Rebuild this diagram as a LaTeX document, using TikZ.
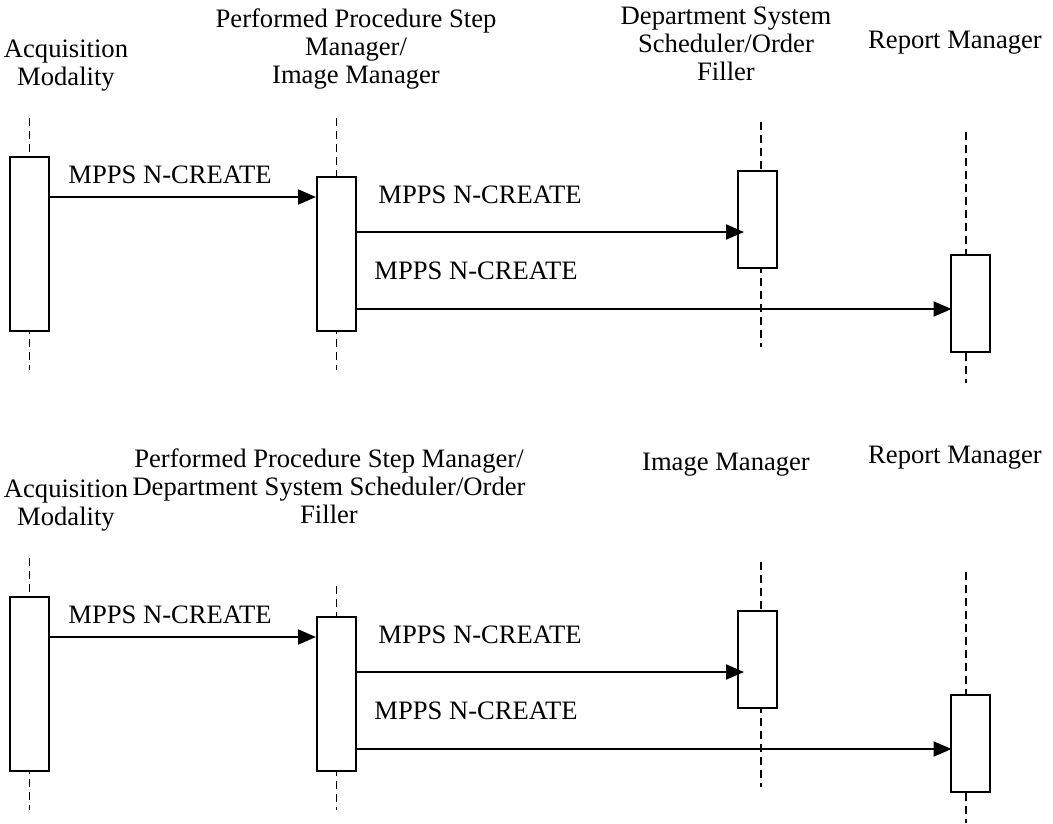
\documentclass[tikz,border=0pt]{standalone}
\usepackage{fontspec}
\setmainfont{Liberation Serif}
\usetikzlibrary{arrows.meta}

\tikzset{
	life/.style={line width=1.5pt, dash pattern=on 8pt off 5pt},
	act/.style={draw, line width=2pt, fill=white, inner sep=0pt, minimum width=39pt},
	msg/.style={line width=2pt, -{Triangle[length=18pt,width=15pt]}},
	title/.style={align=center, anchor=north, inner sep=0pt, font=\fontsize{26.6}{28}\selectfont},
	msglabel/.style={anchor=base, inner sep=0pt, font=\fontsize{26.6}{28}\selectfont}
}

\begin{document}
\begin{tikzpicture}[x=1pt, y=-1pt]
	\useasboundingbox (0,0) rectangle (1053,823);
	
	\node[title] (amT1) at (66,40) {Acquisition\\Modality};
	\node[title] (ppsmT1) at (356,9) {Performed Procedure Step\\Manager/\\Image Manager};
	\node[title] (dssT1) at (726,7) {Department System\\Scheduler/Order\\Filler};
	\node[title] (rmT1) at (955,31) {Report Manager};
	
	\coordinate (amU1) at (29.5,118); \coordinate (amD1) at (29.5,370);
	\coordinate (ppsmU1) at (336.5,118); \coordinate (ppsmD1) at (336.5,370);
	\coordinate (dssU1) at (761,122); \coordinate (dssD1) at (761,347);
	\coordinate (rmU1) at (966,132); \coordinate (rmD1) at (966,383);
	
	\draw[life] (amU1) -- (amD1);
	\draw[life] (ppsmU1) -- (ppsmD1);
	\draw[life] (dssU1) -- (dssD1);
	\draw[life] (rmU1) -- (rmD1);
	
	\node[act, minimum height=174pt] (am1) at (29.5,244) {};
	\node[act, minimum height=154pt] (ppsm1) at (336.5,254) {};
	\node[act, minimum height=97pt] (dss1) at (757.5,219.5) {};
	\node[act, minimum height=97pt] (rm1) at (970,303.5) {};
	
	\draw[msg] (am1.east |- 0,197) -- (ppsm1.west |- 0,197); \node[msglabel] (l11) at (170,183) {MPPS N-CREATE};
	\draw[msg, shorten >=-7pt] (ppsm1.east |- 0,232) -- (dss1.west |- 0,232); \node[msglabel] (l12) at (480,203) {MPPS N-CREATE};
	\draw[msg, shorten >=-2pt] (ppsm1.east |- 0,309) -- (rm1.west |- 0,309); \node[msglabel] (l13) at (476,279) {MPPS N-CREATE};
	
	\node[title] (amT2) at (66,480) {Acquisition\\Modality};
	\node[title] (ppsmT2) at (329,449) {Performed Procedure Step Manager/\\Department System Scheduler/Order\\Filler};
	\node[title] (imT2) at (726,453) {Image Manager};
	\node[title] (rmT2) at (955,446) {Report Manager};
	
	\coordinate (amU2) at (29.5,558); \coordinate (amD2) at (29.5,810);
	\coordinate (ppsmU2) at (336.5,586); \coordinate (ppsmD2) at (336.5,810);
	\coordinate (imU2) at (761,562); \coordinate (imD2) at (761,787);
	\coordinate (rmU2) at (966,572); \coordinate (rmD2) at (966,823);
	
	\draw[life] (amU2) -- (amD2);
	\draw[life] (ppsmU2) -- (ppsmD2);
	\draw[life] (imU2) -- (imD2);
	\draw[life] (rmU2) -- (rmD2);
	
	\node[act, minimum height=174pt] (am2) at (29.5,684) {};
	\node[act, minimum height=154pt] (ppsm2) at (336.5,694) {};
	\node[act, minimum height=97pt] (im2) at (757.5,659.5) {};
	\node[act, minimum height=97pt] (rm2) at (970,743.5) {};
	
	\draw[msg] (am2.east |- 0,637) -- (ppsm2.west |- 0,637); \node[msglabel] (l21) at (170,623) {MPPS N-CREATE};
	\draw[msg, shorten >=-7pt] (ppsm2.east |- 0,672) -- (im2.west |- 0,672); \node[msglabel] (l22) at (480,643) {MPPS N-CREATE};
	\draw[msg, shorten >=-2pt] (ppsm2.east |- 0,749) -- (rm2.west |- 0,749); \node[msglabel] (l23) at (476,719) {MPPS N-CREATE};
\end{tikzpicture}
\end{document}
